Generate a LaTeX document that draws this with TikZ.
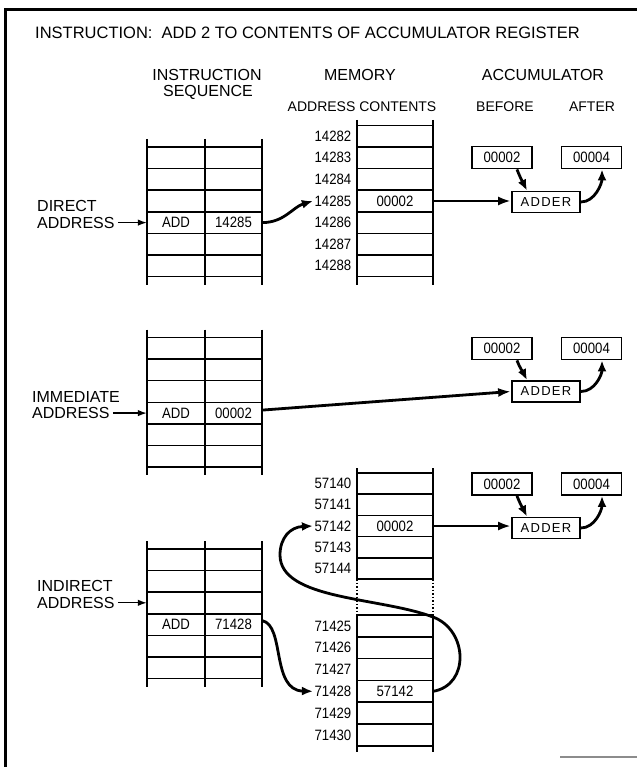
\documentclass[tikz,border=0pt]{standalone}
\usepackage{fontspec}
\setmainfont{Liberation Sans}
\newfontfamily\narrowfont{Liberation Sans}[FakeStretch=0.88]
\usetikzlibrary{arrows.meta}

\begin{document}
\begin{tikzpicture}[x=1pt,y=-1pt,
grid/.style={line width=1.5pt},
cell/.style={inner sep=0pt,minimum height=21pt,font=\narrowfont\fontsize{15}{17}\selectfont},
addr/.style={anchor=east,inner sep=1.5pt,font=\narrowfont\fontsize{15}{17}\selectfont},
accbox/.style={draw,line width=1.8pt,minimum width=60pt,minimum height=22pt,inner sep=0pt,
font=\narrowfont\fontsize{15}{17}\selectfont},
adder/.style={accbox,minimum width=68pt,minimum height=21pt,
font=\fontsize{13}{15}\selectfont\addfontfeatures{LetterSpace=10}},
head/.style={inner sep=0pt,font=\fontsize{16}{18}\selectfont},
sub/.style={inner sep=0pt,font=\fontsize{14}{16}\selectfont},
mode/.style={anchor=west,inner sep=0pt,font=\fontsize{16}{18}\selectfont},
ptr/.style={-{Latex[length=9pt,width=6.5pt]},line width=1.3pt},
flow/.style={-{Latex[length=13pt,width=9pt]},line width=2.8pt},
bow/.style={-{Latex[length=11pt,width=9pt]},line width=2.8pt}
]
\useasboundingbox (0,0) rectangle (637,767);
% frame
\draw[line width=3pt] (5,767) -- (5,10) -- (637,10);
\draw[black!45,line width=1.5pt] (560,757) -- (637,757);

% headings
\node[head,anchor=west,font=\fontsize{16.5}{18}\selectfont] (title) at (35,33)
  {INSTRUCTION:\ \ ADD 2 TO CONTENTS OF ACCUMULATOR REGISTER};
\node[head] (hinstr) at (207,75) {INSTRUCTION};
\node[head] (hseq) at (208,92) {SEQUENCE};
\node[head] (hmem) at (360,75) {MEMORY};
\node[head] (hacc) at (543,75) {ACCUMULATOR};
\node[sub] (hcont) at (362,107) {ADDRESS CONTENTS};
\node[sub] (hbef) at (505,107) {BEFORE};
\node[sub] (haft) at (592,107) {AFTER};

% instruction sequences
\foreach \t in {147,337.5,549}{
  \foreach \x in {147,205,262} \draw[grid] (\x,\t-8) -- (\x,\t+137.6);
  \foreach \k in {0,...,6} \draw[grid] (147,\t+21.6*\k) -- (262,\t+21.6*\k);
}
\node[cell,minimum width=58pt] (op1) at (176,222.6) {ADD};
\node[cell,minimum width=57pt] (arg1) at (233.5,222.6) {14285};
\node[cell,minimum width=58pt] (op2) at (176,413.1) {ADD};
\node[cell,minimum width=57pt] (arg2) at (233.5,413.1) {00002};
\node[cell,minimum width=58pt] (op3) at (176,624.6) {ADD};
\node[cell,minimum width=57pt] (arg3) at (233.5,624.6) {71428};

% addressing modes
\node[mode] (dir1) at (37,206) {DIRECT};
\node[mode] (dir2) at (37,222.6) {ADDRESS};
\node[mode] (imm1) at (32,396.5) {IMMEDIATE};
\node[mode] (imm2) at (32,413.1) {ADDRESS};
\node[mode] (ind1) at (37,586.2) {INDIRECT};
\node[mode] (ind2) at (37,602.8) {ADDRESS};
\draw[ptr] ([xshift=3pt]dir2.east) -- (dir2.east -| op1.west);
\draw[ptr] ([xshift=3pt]imm2.east) -- (imm2.east -| op2.west);
\draw[ptr] ([xshift=3pt]ind2.east) -- (ind2.east -| op3.west);

% memory, direct
\foreach \x in {357,433} \draw[grid] (\x,120) -- (\x,284.6);
\foreach \k in {0,...,7} \draw[grid] (357,125.4+21.6*\k) -- (433,125.4+21.6*\k);
\foreach \a [count=\i from 0] in {14282,14283,14284,14285,14286,14287,14288}
  \node[addr] (a\a) at (353,136.2+21.6*\i) {\a};
\node[cell,minimum width=76pt] (v14285) at (395,201) {00002};

% memory, indirect
\foreach \x in {357,433}{
  \draw[grid] (\x,468) -- (\x,579);
  \draw[grid,dotted] (\x,579) -- (\x,615);
  \draw[grid] (\x,615) -- (\x,752);
}
\foreach \k in {0,...,5} \draw[grid] (357,473+21.2*\k) -- (433,473+21.2*\k);
\foreach \k in {0,...,6} \draw[grid] (357,615+21.8*\k) -- (433,615+21.8*\k);
\foreach \a [count=\i from 0] in {57140,57141,57142,57143,57144}
  \node[addr] (a\a) at (353,483.6+21.2*\i) {\a};
\foreach \a [count=\i from 0] in {71425,71426,71427,71428,71429,71430}
  \node[addr] (a\a) at (353,625.9+21.8*\i) {\a};
\node[cell,minimum width=76pt] (v57142) at (395,526) {00002};
\node[cell,minimum width=76pt] (v71428) at (395,691.3) {57142};

% accumulators
\node[accbox] (bef1) at (502,157.5) {00002};
\node[accbox] (aft1) at (591.5,157.5) {00004};
\node[adder] (add1) at (546,202) {ADDER};
\node[accbox] (bef2) at (502,348.5) {00002};
\node[accbox] (aft2) at (591.5,348.5) {00004};
\node[adder] (add2) at (546,391.5) {ADDER};
\node[accbox] (bef3) at (502,484) {00002};
\node[accbox] (aft3) at (591.5,484) {00004};
\node[adder] (add3) at (546,528) {ADDER};
\foreach \s in {1,2,3}{
  \draw[bow] ([xshift=15pt]bef\s.south) .. controls +(3,8) and +(-4,-8) .. ([xshift=-19pt]add\s.north);
  \draw[bow] (add\s.east) .. controls +(14,0) and +(0,14) .. ([xshift=10.5pt]aft\s.south);
}

% data paths
\draw[bow] (arg1.east) .. controls +(22,0) and +(-20,6) .. (a14285.west);
\draw[flow] (v14285.east) -- (v14285.east -| add1.west);
\draw[flow] ([yshift=3pt]arg2.east) -- (add2.west);
\draw[bow] ([yshift=4pt]arg3.east) .. controls +(23,5) and +(-42,-1) .. (a71428.west);
\draw[bow] (v71428.east) .. controls (470,685) and (468,630) .. (433,617)
  .. controls (380,597) and (280,600) .. (280,555)
  .. controls (280,538) and (290,527) .. (a57142.west);
\draw[flow] (v57142.east) -- (v57142.east -| add3.west);
\end{tikzpicture}
\end{document}
